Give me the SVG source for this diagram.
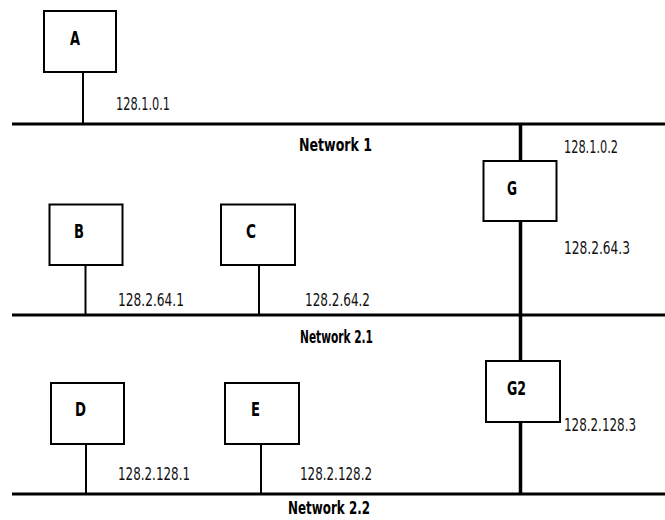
<svg xmlns="http://www.w3.org/2000/svg" width="665" height="520" viewBox="0 0 665 520">
<style>
.net{stroke:#000;stroke-width:3;fill:none}
.drop{stroke:#000;stroke-width:2;fill:none}
.gw{stroke:#000;stroke-width:3.5;fill:none}
.box{fill:#fff;stroke:#000;stroke-width:2}
.lbl{font-family:"DejaVu Sans Condensed","Roboto","Liberation Sans",sans-serif;font-weight:bold;font-size:19px;fill:#000}
.ip{font-family:"DejaVu Sans Condensed","Roboto","Liberation Sans",sans-serif;font-size:18px;fill:#111}
.nn{font-family:"DejaVu Sans Condensed","Roboto","Liberation Sans",sans-serif;font-weight:bold;font-size:18px;fill:#000}
</style>
<rect width="665" height="520" fill="#fff"/>
<g id="connectors">
<line class="net" x1="12" y1="124" x2="665" y2="124"/>
<line class="net" x1="12" y1="315" x2="665" y2="315"/>
<line class="net" x1="12" y1="494" x2="665" y2="494"/>
<line class="gw" x1="520.5" y1="124" x2="520.5" y2="494"/>
<line class="drop" x1="83" y1="72" x2="83" y2="124"/>
<line class="drop" x1="85.5" y1="265" x2="85.5" y2="315"/>
<line class="drop" x1="259" y1="265" x2="259" y2="315"/>
<line class="drop" x1="86" y1="444" x2="86" y2="494"/>
<line class="drop" x1="261" y1="444" x2="261" y2="494"/>
</g>
<g id="network1"><text class="nn" x="299" y="151" textLength="73" lengthAdjust="spacingAndGlyphs">Network 1</text></g>
<g id="network21"><text class="nn" x="300" y="343" textLength="73" lengthAdjust="spacingAndGlyphs">Network 2.1</text></g>
<g id="network22"><text class="nn" x="288" y="514" textLength="82" lengthAdjust="spacingAndGlyphs">Network 2.2</text></g>
<g id="A"><rect class="box" x="44" y="11" width="72" height="61"/><text class="lbl" x="70" y="45" textLength="10" lengthAdjust="spacingAndGlyphs">A</text>
<text class="ip" x="116" y="110" textLength="54" lengthAdjust="spacingAndGlyphs">128.1.0.1</text></g>
<g id="B"><rect class="box" x="49.5" y="204.5" width="73" height="60.5"/><text class="lbl" x="74" y="238" textLength="10" lengthAdjust="spacingAndGlyphs">B</text>
<text class="ip" x="118" y="306" textLength="66" lengthAdjust="spacingAndGlyphs">128.2.64.1</text></g>
<g id="C"><rect class="box" x="221" y="204.5" width="74" height="60.5"/><text class="lbl" x="246" y="238" textLength="10" lengthAdjust="spacingAndGlyphs">C</text>
<text class="ip" x="305" y="306" textLength="65" lengthAdjust="spacingAndGlyphs">128.2.64.2</text></g>
<g id="G"><rect class="box" x="483.5" y="161" width="73" height="60"/><text class="lbl" x="507" y="195" textLength="10" lengthAdjust="spacingAndGlyphs">G</text>
<text class="ip" x="564" y="153" textLength="54" lengthAdjust="spacingAndGlyphs">128.1.0.2</text>
<text class="ip" x="564" y="254" textLength="66" lengthAdjust="spacingAndGlyphs">128.2.64.3</text></g>
<g id="G2"><rect class="box" x="486" y="361" width="74" height="61"/><text class="lbl" x="507" y="395" textLength="19" lengthAdjust="spacingAndGlyphs">G2</text>
<text class="ip" x="564" y="431" textLength="72" lengthAdjust="spacingAndGlyphs">128.2.128.3</text></g>
<g id="D"><rect class="box" x="51" y="383" width="73" height="61"/><text class="lbl" x="75" y="416" textLength="11" lengthAdjust="spacingAndGlyphs">D</text>
<text class="ip" x="118" y="480" textLength="72" lengthAdjust="spacingAndGlyphs">128.2.128.1</text></g>
<g id="E"><rect class="box" x="225" y="383" width="74" height="61"/><text class="lbl" x="251" y="416" textLength="9" lengthAdjust="spacingAndGlyphs">E</text>
<text class="ip" x="300" y="480" textLength="72" lengthAdjust="spacingAndGlyphs">128.2.128.2</text></g>
</svg>
